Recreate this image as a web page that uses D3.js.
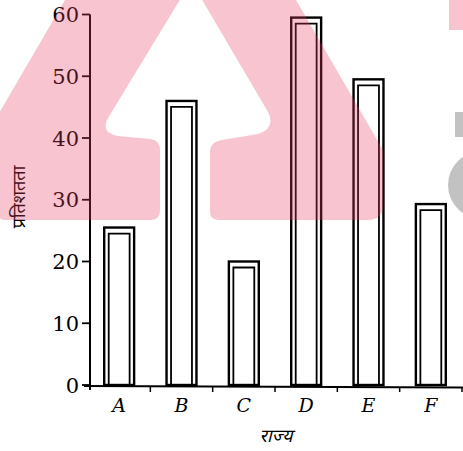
<!DOCTYPE html>
<html>
<head>
<meta charset="utf-8">
<script src="https://cdn.jsdelivr.net/npm/d3@7"></script>
<style>
html,body{margin:0;padding:0;background:#fff;}
svg{display:block;}
</style>
</head>
<body>
<svg id="chart" width="463" height="451"></svg>
<script>
// ---- data ----
const categories = ["A", "B", "C", "D", "E", "F"];
const values = [25.5, 46, 20, 59.5, 49.5, 29.3];
const yTicks = [0, 10, 20, 30, 40, 50, 60];
const xTitle = "राज्य";
const yTitle = "प्रतिशतता";

const svg = d3.select("#chart");
const serif = "'DejaVu Serif', 'Liberation Serif', serif";
const deva = "'Noto Sans Devanagari','Noto Serif Devanagari','Lohit Devanagari','Mangal','FreeSans',sans-serif";

const x = d3.scaleBand().domain(categories).range([88, 462]).paddingInner(0.52).paddingOuter(0.26);
const y = d3.scaleLinear().domain([0, 60]).range([385, 14.5]);
const step = x.step();

// y axis
const gy = svg.append("g");
gy.append("line").attr("x1", 90).attr("x2", 90).attr("y1", y(60)).attr("y2", y(0) + 5)
  .attr("stroke", "#000").attr("stroke-width", 2);
gy.selectAll(".yt").data(yTicks).join("line")
  .attr("x1", 82).attr("x2", 90).attr("y1", d => y(d)).attr("y2", d => y(d))
  .attr("stroke", "#000").attr("stroke-width", 1.8);
gy.selectAll(".yl").data(yTicks).join("text")
  .attr("x", 79).attr("y", d => y(d)).attr("dy", "0.36em")
  .attr("text-anchor", "end").attr("font-family", serif).attr("font-size", 21)
  .attr("fill", "#000").text(d => d);

// x axis
const gx = svg.append("g");
gx.append("line").attr("x1", 84).attr("x2", 463).attr("y1", y(0) + 1).attr("y2", y(0) + 2.5)
  .attr("stroke", "#000").attr("stroke-width", 2);
const bounds = categories.map((c, i) => x.range()[0] + (i + 1) * step);
gx.selectAll(".xt").data(bounds).join("line")
  .attr("x1", d => d).attr("x2", d => d)
  .attr("y1", y(0) + 2).attr("y2", y(0) + 7)
  .attr("stroke", "#000").attr("stroke-width", 1.5);
gx.selectAll(".xl").data(categories).join("text")
  .attr("x", d => x(d) + x.bandwidth() / 2).attr("y", 412)
  .attr("text-anchor", "middle").attr("font-family", serif)
  .attr("font-style", "italic").attr("font-size", 19).attr("fill", "#000")
  .text(d => d);

// bars (double-walled with cap)
const inset = 4.5, cap = 6;
const bars = svg.append("g").selectAll("g").data(categories.map((c, i) => ({c, v: values[i]}))).join("g");
bars.append("rect")
  .attr("x", d => x(d.c)).attr("y", d => y(d.v))
  .attr("width", x.bandwidth()).attr("height", d => y(0) - y(d.v))
  .attr("fill", "none").attr("stroke", "#000").attr("stroke-width", 2.4);
bars.append("path")
  .attr("d", d => {
    const x0 = x(d.c) + inset, x1 = x(d.c) + x.bandwidth() - inset;
    const t = y(d.v) + cap, b = y(0);
    return `M${x0},${b}V${t}H${x1}V${b}`;
  })
  .attr("fill", "none").attr("stroke", "#000").attr("stroke-width", 1.8);

// titles
svg.append("text").attr("x", 276).attr("y", 442).attr("text-anchor", "middle")
  .attr("font-family", deva).attr("font-style", "italic").attr("font-size", 18).attr("fill", "#000").text(xTitle);
svg.append("text").attr("transform", "translate(25,197) rotate(-90)").attr("text-anchor", "middle")
  .attr("font-family", deva).attr("font-size", 18).attr("fill", "#000").text(yTitle);

// ---- background watermark overlay (decoration, not data) ----
const wm = svg.append("g").attr("pointer-events", "none");
const wmPath = "M65,0 L-2,115 L-2,214 Q-2,220 6,220 L150,220 Q160,220 160,210 L160,150 Q160,140 150,139 L118,136 Q100,133 108,118 L181,-2 L201,-2 L268,112 Q276,128 258,134 L222,140 Q210,142 210,152 L210,212 Q210,220 220,220 L368,220 Q383,220 383,205 L383,150 L296,0 Z";
wm.append("path").attr("d", wmPath).attr("fill", "rgb(228,60,95)").attr("fill-opacity", 0.3);
wm.append("rect").attr("x", 449).attr("y", 0).attr("width", 14).attr("height", 30)
  .attr("fill", "rgb(228,60,95)").attr("fill-opacity", 0.3);
wm.append("rect").attr("x", 455).attr("y", 112).attr("width", 8).attr("height", 25)
  .attr("fill", "#999").attr("fill-opacity", 0.6);
wm.append("circle").attr("cx", 482).attr("cy", 185).attr("r", 34)
  .attr("fill", "#999").attr("fill-opacity", 0.6);
</script>
</body>
</html>
